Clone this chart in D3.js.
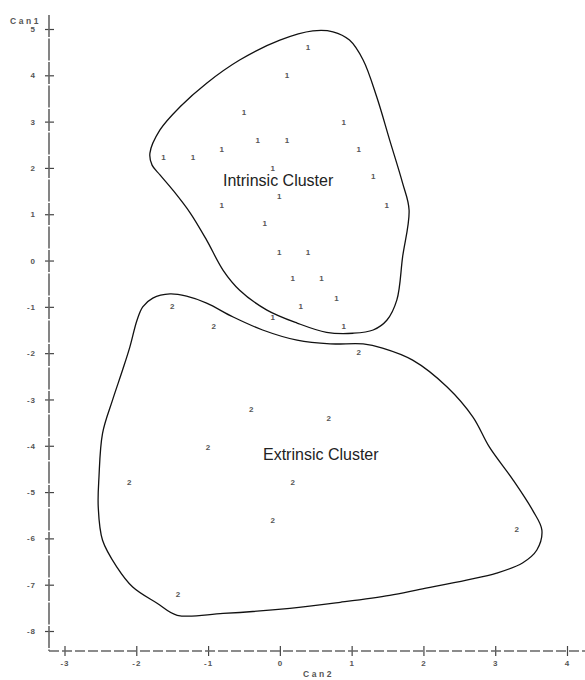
<!DOCTYPE html>
<html>
<head>
<meta charset="utf-8">
<script src="https://cdn.jsdelivr.net/npm/d3@7"></script>
<style>
  body { margin: 0; background: #fff; }
  svg { display: block; }
  .tick text { font-family: "Liberation Sans", Arial, sans-serif; font-size: 8px; font-weight: bold; fill: #555; letter-spacing: 1px; }
  .pt { font-family: "Liberation Sans", Arial, sans-serif; font-size: 8px; font-weight: bold; fill: #555; }
  .lab { font-family: "Liberation Sans", Arial, sans-serif; font-size: 16px; fill: #222; }
  .axname { font-family: "Liberation Sans", Arial, sans-serif; font-size: 8.5px; font-weight: bold; fill: #555; letter-spacing: 2.6px; }
</style>
</head>
<body>
<script>
// canonical scores, group 1 (intrinsic)
var can2_g1 = [0.39, 0.10, -0.50, 0.89, -0.31, 0.10, -0.81, 1.10, -1.62, -1.21, -0.10, 1.30,
               -0.01, -0.81, 1.49, -0.21, -0.01, 0.39, 0.18, 0.58, 0.79, 0.29, -0.10, 0.89]
var can1_g1 = [4.61, 4.01, 3.21, 2.99, 2.60, 2.60, 2.41, 2.41, 2.24, 2.24, 2.00, 1.83,
               1.39, 1.20, 1.20, 0.81, 0.18, 0.18, -0.38, -0.38, -0.81, -0.98, -1.22, -1.41]
// group 2 (extrinsic)
var can2_g2 = [-1.50, -0.92, 1.10, -0.40, 0.68, -1.00, -2.10, 0.18, -0.10, -1.42, 3.30]
var can1_g2 = [-0.98, -1.41, -1.97, -3.21, -3.40, -4.03, -4.78, -4.78, -5.61, -7.20, -5.80]

// hand drawn cluster outlines (data units)
var intrinsicHull = [[-1.81,2.32],[-1.67,2.82],[-1.39,3.32],[-1.02,3.83],[-0.56,4.33],[0.00,4.76],
  [0.46,4.96],[0.74,4.94],[0.97,4.76],[1.16,4.33],[1.35,3.53],[1.53,2.60],[1.71,1.67],[1.80,1.09],
  [1.71,0.08],[1.63,-0.85],[1.49,-1.29],[1.30,-1.50],[1.02,-1.57],[0.65,-1.55],[0.24,-1.35],
  [-0.18,-1.07],[-0.56,-0.64],[-0.79,-0.21],[-1.02,0.44],[-1.25,1.03],[-1.49,1.52],[-1.67,1.85],[-1.78,2.06]]
var extrinsicHull = [[-1.43,-7.66],[-1.71,-7.40],[-2.05,-7.05],[-2.27,-6.62],[-2.47,-6.04],[-2.53,-5.32],
  [-2.52,-4.68],[-2.47,-3.73],[-2.33,-3.01],[-2.19,-2.36],[-2.09,-1.87],[-1.99,-1.29],[-1.91,-1.00],
  [-1.77,-0.81],[-1.53,-0.72],[-1.30,-0.77],[-1.02,-0.92],[-0.65,-1.22],[-0.24,-1.50],[0.24,-1.72],
  [0.70,-1.80],[1.16,-1.80],[1.43,-1.89],[1.85,-2.15],[2.33,-2.73],[2.69,-3.38],[2.92,-4.03],[3.25,-4.74],
  [3.52,-5.39],[3.65,-5.82],[3.58,-6.25],[3.38,-6.53],[3.02,-6.75],[2.60,-6.90],[1.95,-7.10],
  [1.53,-7.23],[0.84,-7.38],[0.14,-7.51],[-0.79,-7.62]]

var xTicks = [-3, -2, -1, 0, 1, 2, 3, 4]
var yTicks = [5, 4, 3, 2, 1, 0, -1, -2, -3, -4, -5, -6, -7, -8]

var svg = d3.select("body").append("svg")
  .attr("width", 585)
  .attr("height", 680)

var x = d3.scaleLinear().domain([-3, 4]).range([64.5, 567])
var y = d3.scaleLinear().domain([-8, 5]).range([631, 29])
var axX = 49, axY = 651

// axes
var yAxis = svg.append("g")
  .attr("transform", "translate(" + axX + ",0)")
  .call(d3.axisLeft(y).tickValues(yTicks).tickSize(4).tickPadding(9)
    .tickFormat(d => d < 0 ? "-" + Math.abs(d) : d))
yAxis.select(".domain").remove()
yAxis.selectAll(".tick line").attr("x1", 5).attr("stroke", "#444").attr("stroke-width", 1.2)

var xAxis = svg.append("g")
  .attr("transform", "translate(0," + axY + ")")
  .call(d3.axisBottom(x).tickValues(xTicks).tickSize(5).tickPadding(4)
    .tickFormat(d => d < 0 ? "-" + Math.abs(d) : d))
xAxis.select(".domain").remove()
xAxis.selectAll(".tick line").attr("y1", -5).attr("stroke", "#444").attr("stroke-width", 1.2)

svg.append("line")
  .attr("x1", axX).attr("x2", axX).attr("y1", 15).attr("y2", axY)
  .attr("stroke", "#666").attr("stroke-width", 1.6).attr("stroke-dasharray", "22,1.5")
svg.append("line")
  .attr("x1", axX).attr("x2", 585).attr("y1", axY).attr("y2", axY)
  .attr("stroke", "#666").attr("stroke-width", 1.6).attr("stroke-dasharray", "10,3")

svg.append("text").attr("class", "axname").attr("x", 10).attr("y", 24).text("Can1")
svg.append("text").attr("class", "axname").attr("x", 303).attr("y", 677).text("Can2")

// outlines
var line = d3.line()
  .x(d => x(d[0])).y(d => y(d[1]))
  .curve(d3.curveCatmullRomClosed.alpha(0.5))
svg.selectAll(".hull")
  .data([intrinsicHull, extrinsicHull])
  .enter().append("path")
  .attr("class", "hull")
  .attr("d", line)
  .attr("fill", "none")
  .attr("stroke", "#111")
  .attr("stroke-width", 1.3)

// point labels
var g1 = can2_g1.map((v, i) => ({x: v, y: can1_g1[i], g: "1"}))
var g2 = can2_g2.map((v, i) => ({x: v, y: can1_g2[i], g: "2"}))
svg.selectAll(".pt")
  .data(g1.concat(g2))
  .enter().append("text")
  .attr("class", "pt")
  .attr("x", d => x(d.x))
  .attr("y", d => y(d.y))
  .attr("dy", "0.35em")
  .attr("text-anchor", "middle")
  .text(d => d.g)

svg.append("text").attr("class", "lab").attr("x", 223).attr("y", 186).text("Intrinsic Cluster")
svg.append("text").attr("class", "lab").attr("x", 263).attr("y", 460).text("Extrinsic Cluster")
</script>
</body>
</html>
